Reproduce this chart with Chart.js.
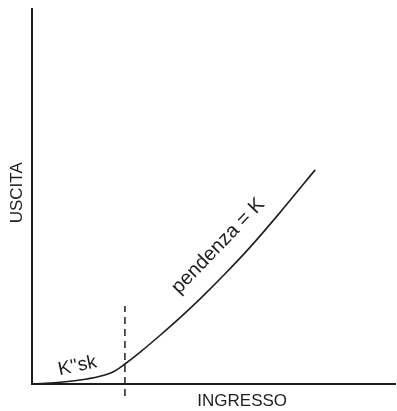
<!DOCTYPE html>
<html>
<head>
<meta charset="utf-8">
<script src="https://cdn.jsdelivr.net/npm/chart.js@4"></script>
<style>
  html, body { margin: 0; padding: 0; background: #fff; }
  #wrap { width: 397px; height: 411px; }
</style>
</head>
<body>
<div id="wrap"><canvas id="chart"></canvas></div>
<script>
// curve (input, output)
const ingresso = [0, 5.0, 8.5, 13.2, 17.9, 22.3, 25.6, 29.8, 35.3, 40.8, 46.3, 53.2, 60.1, 68.3, 78];
const uscita = [0, 0.27, 0.53, 1.07, 1.87, 3.2, 5.33, 8.5, 13.0, 17.7, 22.7, 29.4, 36.5, 45.7, 57.1];
// dashed threshold line
const sogliaX = [25.6, 25.6];
const sogliaY = [-3.2, 20.8];

const ink = '#1e1e1e';
const font = 'Liberation Sans, Arial, sans-serif';

// draws axis names and the two notes on the curve
const labelsPlugin = {
    id: 'labels',
    afterDraw(chart) {
        const ctx = chart.ctx;
        const x = chart.scales.x, y = chart.scales.y;
        ctx.save();
        ctx.fillStyle = ink;
        ctx.textAlign = 'center';
        ctx.textBaseline = 'middle';
        ctx.font = '17px ' + font;

        ctx.fillText('INGRESSO', x.getPixelForValue(57.9), 401);

        ctx.save();
        ctx.translate(17, y.getPixelForValue(51));
        ctx.rotate(-Math.PI / 2);
        ctx.fillText('USCITA', 0, 0);
        ctx.restore();

        ctx.save();
        ctx.translate(x.getPixelForValue(12.5), y.getPixelForValue(4.8));
        ctx.rotate(-12 * Math.PI / 180);
        ctx.font = '19px ' + font;
        ctx.fillText("K''sk", 0, 0);
        ctx.restore();

        ctx.save();
        ctx.translate(x.getPixelForValue(51.3), y.getPixelForValue(36.8));
        ctx.rotate(-46 * Math.PI / 180);
        ctx.font = '20px ' + font;
        ctx.fillText('pendenza = K', 0, 0);
        ctx.restore();

        ctx.restore();
    }
};

new Chart(document.getElementById('chart'), {
    type: 'scatter',
    data: {
        datasets: [{
            data: ingresso.map((v, i) => ({ x: v, y: uscita[i] })),
            showLine: true,
            borderColor: ink,
            borderWidth: 1.6,
            pointRadius: 0,
            tension: 0.3
        }, {
            data: sogliaX.map((v, i) => ({ x: v, y: sogliaY[i] })),
            showLine: true,
            borderColor: ink,
            borderWidth: 1.5,
            borderDash: [7, 5],
            pointRadius: 0,
            clip: false
        }]
    },
    options: {
        responsive: true,
        maintainAspectRatio: false,
        animation: false,
        layout: { padding: { left: 24, right: 2, top: 9, bottom: 19 } },
        plugins: { legend: { display: false }, tooltip: { enabled: false } },
        scales: {
            x: {
                type: 'linear', min: 0, max: 100,
                grid: { display: false },
                ticks: { display: false },
                border: { color: ink, width: 2 }
            },
            y: {
                type: 'linear', min: 0, max: 100,
                grid: { display: false },
                ticks: { display: false },
                border: { color: ink, width: 2 }
            }
        }
    },
    plugins: [labelsPlugin]
});
</script>
</body>
</html>
